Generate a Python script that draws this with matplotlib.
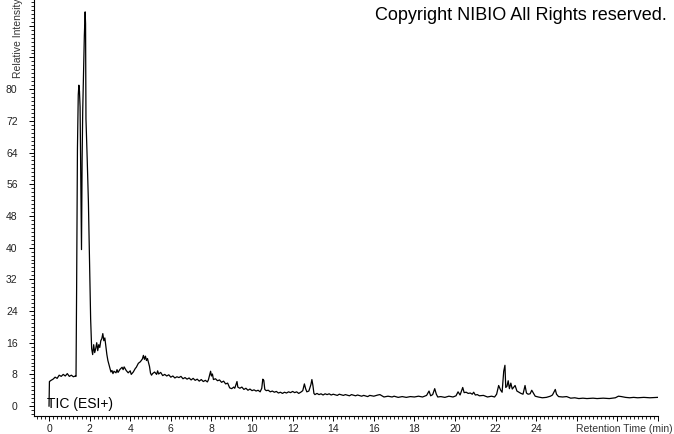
import matplotlib
matplotlib.use('Agg')
import matplotlib.pyplot as plt
from matplotlib.ticker import MultipleLocator, FixedLocator

# --- Data (time in min, relative intensity) ---
rt_min = [
    0.0, 0.02, 0.1, 0.2, 0.3, 0.4, 0.5, 0.6, 0.7, 0.8, 0.9, 1.0, 1.1, 1.2, 1.3, 1.33,
    1.36, 1.40, 1.44, 1.47, 1.50, 1.53, 1.56, 1.60, 1.63, 1.66, 1.70, 1.74, 1.78, 1.80,
    1.82, 1.88, 1.94, 2.00, 2.05, 2.10,
    2.15, 2.2, 2.25, 2.3, 2.35, 2.4, 2.45, 2.5, 2.55, 2.6, 2.65, 2.7, 2.75, 2.8, 2.85,
    2.9, 2.95, 3.0, 3.05, 3.1, 3.15, 3.2, 3.3, 3.35, 3.4, 3.5, 3.6, 3.65, 3.7, 3.8, 3.9,
    4.0, 4.05, 4.15, 4.25, 4.3, 4.4, 4.5, 4.6, 4.65, 4.7, 4.75, 4.8, 4.85, 4.9, 4.95,
    5.0, 5.05, 5.1, 5.2, 5.3, 5.35, 5.4, 5.5, 5.6, 5.7, 5.8, 5.9, 6.0, 6.1, 6.2, 6.3,
    6.4, 6.5, 6.6, 6.7, 6.8, 6.9, 7.0, 7.1, 7.2, 7.3, 7.4, 7.5, 7.6, 7.7, 7.8, 7.85,
    7.92, 7.96, 8.0, 8.05, 8.1, 8.2, 8.3, 8.4, 8.5, 8.6, 8.7, 8.8, 8.9, 9.0, 9.1, 9.15,
    9.22, 9.26, 9.3, 9.4, 9.5, 9.6, 9.7, 9.8, 9.9, 10.0, 10.1, 10.2, 10.3, 10.4, 10.48,
    10.53, 10.58, 10.63, 10.7, 10.8, 10.9, 11.0, 11.1, 11.2, 11.3, 11.4, 11.5, 11.6,
    11.7, 11.8, 11.9, 12.0, 12.1, 12.2, 12.3, 12.4, 12.5, 12.58, 12.64, 12.7, 12.8,
    12.9, 12.95, 13.0, 13.05, 13.1, 13.2, 13.3, 13.4, 13.5, 13.6, 13.7, 13.8, 13.9,
    14.0, 14.2, 14.3, 14.5, 14.6, 14.8, 14.9, 15.1, 15.2, 15.4, 15.5, 15.7, 15.8, 16.0,
    16.2, 16.3, 16.5, 16.7, 16.9, 17.0, 17.2, 17.4, 17.6, 17.8, 18.0, 18.2, 18.4, 18.6,
    18.72, 18.8, 18.9, 19.0, 19.08, 19.15, 19.3, 19.5, 19.7, 19.9, 20.05, 20.15, 20.25,
    20.38, 20.45, 20.55, 20.65, 20.75, 20.85, 20.92, 21.0, 21.1, 21.2, 21.4, 21.6, 21.8,
    21.95, 22.05, 22.15, 22.25, 22.32, 22.4, 22.46, 22.5, 22.56, 22.62, 22.68, 22.75,
    22.82, 22.9, 22.96, 23.05, 23.15, 23.25, 23.35, 23.45, 23.52, 23.6, 23.7, 23.78,
    23.85, 23.95, 24.1, 24.3, 24.5, 24.7, 24.8, 24.94, 25.0, 25.1, 25.3, 25.5, 25.7,
    25.9, 26.1, 26.3, 26.5, 26.8, 27.0, 27.3, 27.6, 27.9, 28.05, 28.2, 28.4, 28.6, 28.8,
    29.0, 29.3, 29.6, 29.98,
]
intensity = [
    0.0, 6.2, 6.5, 6.8, 7.3, 7.0, 7.8, 7.5, 8.0, 7.6, 8.2, 7.5, 7.8, 7.4, 7.6, 7.5,
    30.0, 65.0, 78.5, 81.0, 79.5, 75.5, 60.0, 39.5, 62.0, 74.5, 84.5, 93.5, 99.5, 96.5,
    72.5, 62.5, 51.5, 36.0, 22.0, 14.5,
    13.0, 15.5, 13.5, 14.5, 16.0, 14.0, 15.5, 14.8, 16.5, 17.0, 18.3, 16.5, 17.2, 15.0, 13.0,
    11.5, 10.5, 9.5, 8.6, 9.0, 8.2, 8.8, 8.4, 9.2, 8.5, 9.3, 9.8, 9.2, 9.9, 9.0, 8.4,
    8.9, 8.0, 8.6, 9.5, 9.8, 10.8, 11.2, 11.9, 12.8, 11.8, 12.6, 11.5, 12.0, 11.0, 10.0,
    8.3, 7.8, 8.2, 8.6, 8.0, 8.9, 8.1, 8.5, 7.7, 8.0, 7.6, 7.9, 7.3, 7.6, 7.1, 7.4,
    7.2, 7.5, 6.9, 7.2, 6.8, 7.1, 6.6, 7.0, 6.5, 6.8, 6.3, 6.7, 6.2, 6.5, 6.1, 6.6,
    8.0, 8.8, 7.6, 8.1, 6.7, 6.9, 6.4, 6.6, 6.0, 6.3, 5.6, 5.8, 4.6, 4.4, 4.8, 4.5,
    5.6, 6.2, 4.8, 4.5, 4.8, 4.2, 4.5, 4.0, 4.3, 3.9, 4.1, 3.8, 4.0, 3.6, 4.5,
    6.8, 6.5, 4.2, 3.9, 4.0, 3.6, 3.8, 3.5, 3.7, 3.3, 3.5, 3.2, 3.5,
    3.3, 3.6, 3.4, 3.7, 3.4, 3.6, 3.2, 3.5, 3.9, 5.6, 4.4, 3.6, 3.8,
    5.4, 6.7, 5.2, 3.2, 2.9, 3.2, 2.9, 3.1, 2.8, 3.1, 2.9, 3.1, 2.8,
    3.0, 2.7, 3.0, 2.7, 2.9, 2.6, 2.9, 2.6, 2.8, 2.5, 2.7, 2.4, 2.7, 2.5,
    2.8, 2.9, 2.3, 2.5, 2.3, 2.5, 2.2, 2.4, 2.2, 2.4, 2.3, 2.5, 2.3, 2.7,
    3.8, 2.6, 2.9, 4.4, 3.0, 2.3, 2.4, 2.2, 2.5, 2.3, 2.6, 3.6, 2.8,
    4.7, 3.4, 3.5, 3.2, 3.3, 3.0, 3.5, 2.8, 2.9, 2.6, 2.7, 2.3, 2.5,
    2.3, 3.0, 5.2, 4.0, 3.5, 8.8, 10.3, 4.7, 5.0, 6.4, 4.4, 5.8,
    4.3, 4.8, 5.2, 3.8, 3.5, 3.2, 3.0, 5.2, 3.3, 3.0, 3.1, 4.0,
    3.4, 2.5, 2.3, 2.1, 2.2, 2.5, 2.8, 4.2, 3.0, 2.4, 2.3, 2.4, 2.0,
    2.1, 1.9, 2.0, 1.9, 2.0, 1.9, 2.0, 1.9, 2.1, 2.5, 2.4, 2.2, 2.1, 2.2,
    2.1, 2.2, 2.1, 2.2,
]

x_major = [0, 2, 4, 6, 8, 10, 12, 14, 16, 18, 20, 22, 24, 26, 28, 30]
x_labels = ['0', '2', '4', '6', '8', '10', '12', '14', '16', '18', '20', '22', '24', '', '', '']
y_major = [0, 8, 16, 24, 32, 40, 48, 56, 64, 72, 80, 88, 96]
y_labels = ['0', '8', '16', '24', '32', '40', '48', '56', '64', '72', '80', '', '']

plt.rcParams['font.family'] = ['Liberation Sans', 'DejaVu Sans']

fig = plt.figure(figsize=(6.74, 4.34), dpi=100)
ax = fig.add_axes([34 / 674, 18 / 434, 624 / 674, 416 / 434])

ax.plot(rt_min, intensity, color='black', linewidth=0.9)

ax.set_xlim(-0.74, 30.0)
ax.set_ylim(-2.5, 102.5)

ax.spines['top'].set_visible(False)
ax.spines['right'].set_visible(False)
ax.spines['left'].set_linewidth(0.8)
ax.spines['bottom'].set_linewidth(0.8)

ax.xaxis.set_major_locator(FixedLocator(x_major))
ax.set_xticklabels(x_labels)
ax.xaxis.set_minor_locator(MultipleLocator(0.2))
ax.yaxis.set_major_locator(FixedLocator(y_major))
ax.set_yticklabels(y_labels)
ax.yaxis.set_minor_locator(MultipleLocator(1))

ax.tick_params(which='major', length=3.8, width=0.7, labelsize=7.5,
               labelcolor='#222222')
ax.tick_params(which='minor', length=2.2, width=0.6)
ax.tick_params(axis='x', which='major', pad=2.2)
ax.tick_params(axis='y', which='major', pad=8)

# y label sits at the top edge and runs off it, as in the original screenshot
fig.text(18 / 674, 1 - 78 / 434, 'Relative Intensity', rotation=90,
         ha='center', va='bottom', fontsize=7.5, color='#333333')
fig.text(673 / 674, 1 - 429 / 434, 'Retention Time (min)',
         ha='right', va='center', fontsize=7.5, color='#333333')
fig.text(667 / 674, 1 - 15 / 434, 'Copyright NIBIO All Rights reserved.',
         ha='right', va='center', fontsize=13, color='black')
ax.text(-0.12, 0.5, 'TIC (ESI+)', ha='left', va='center',
        fontsize=10, color='black')

fig.savefig('out.png', dpi=100)
